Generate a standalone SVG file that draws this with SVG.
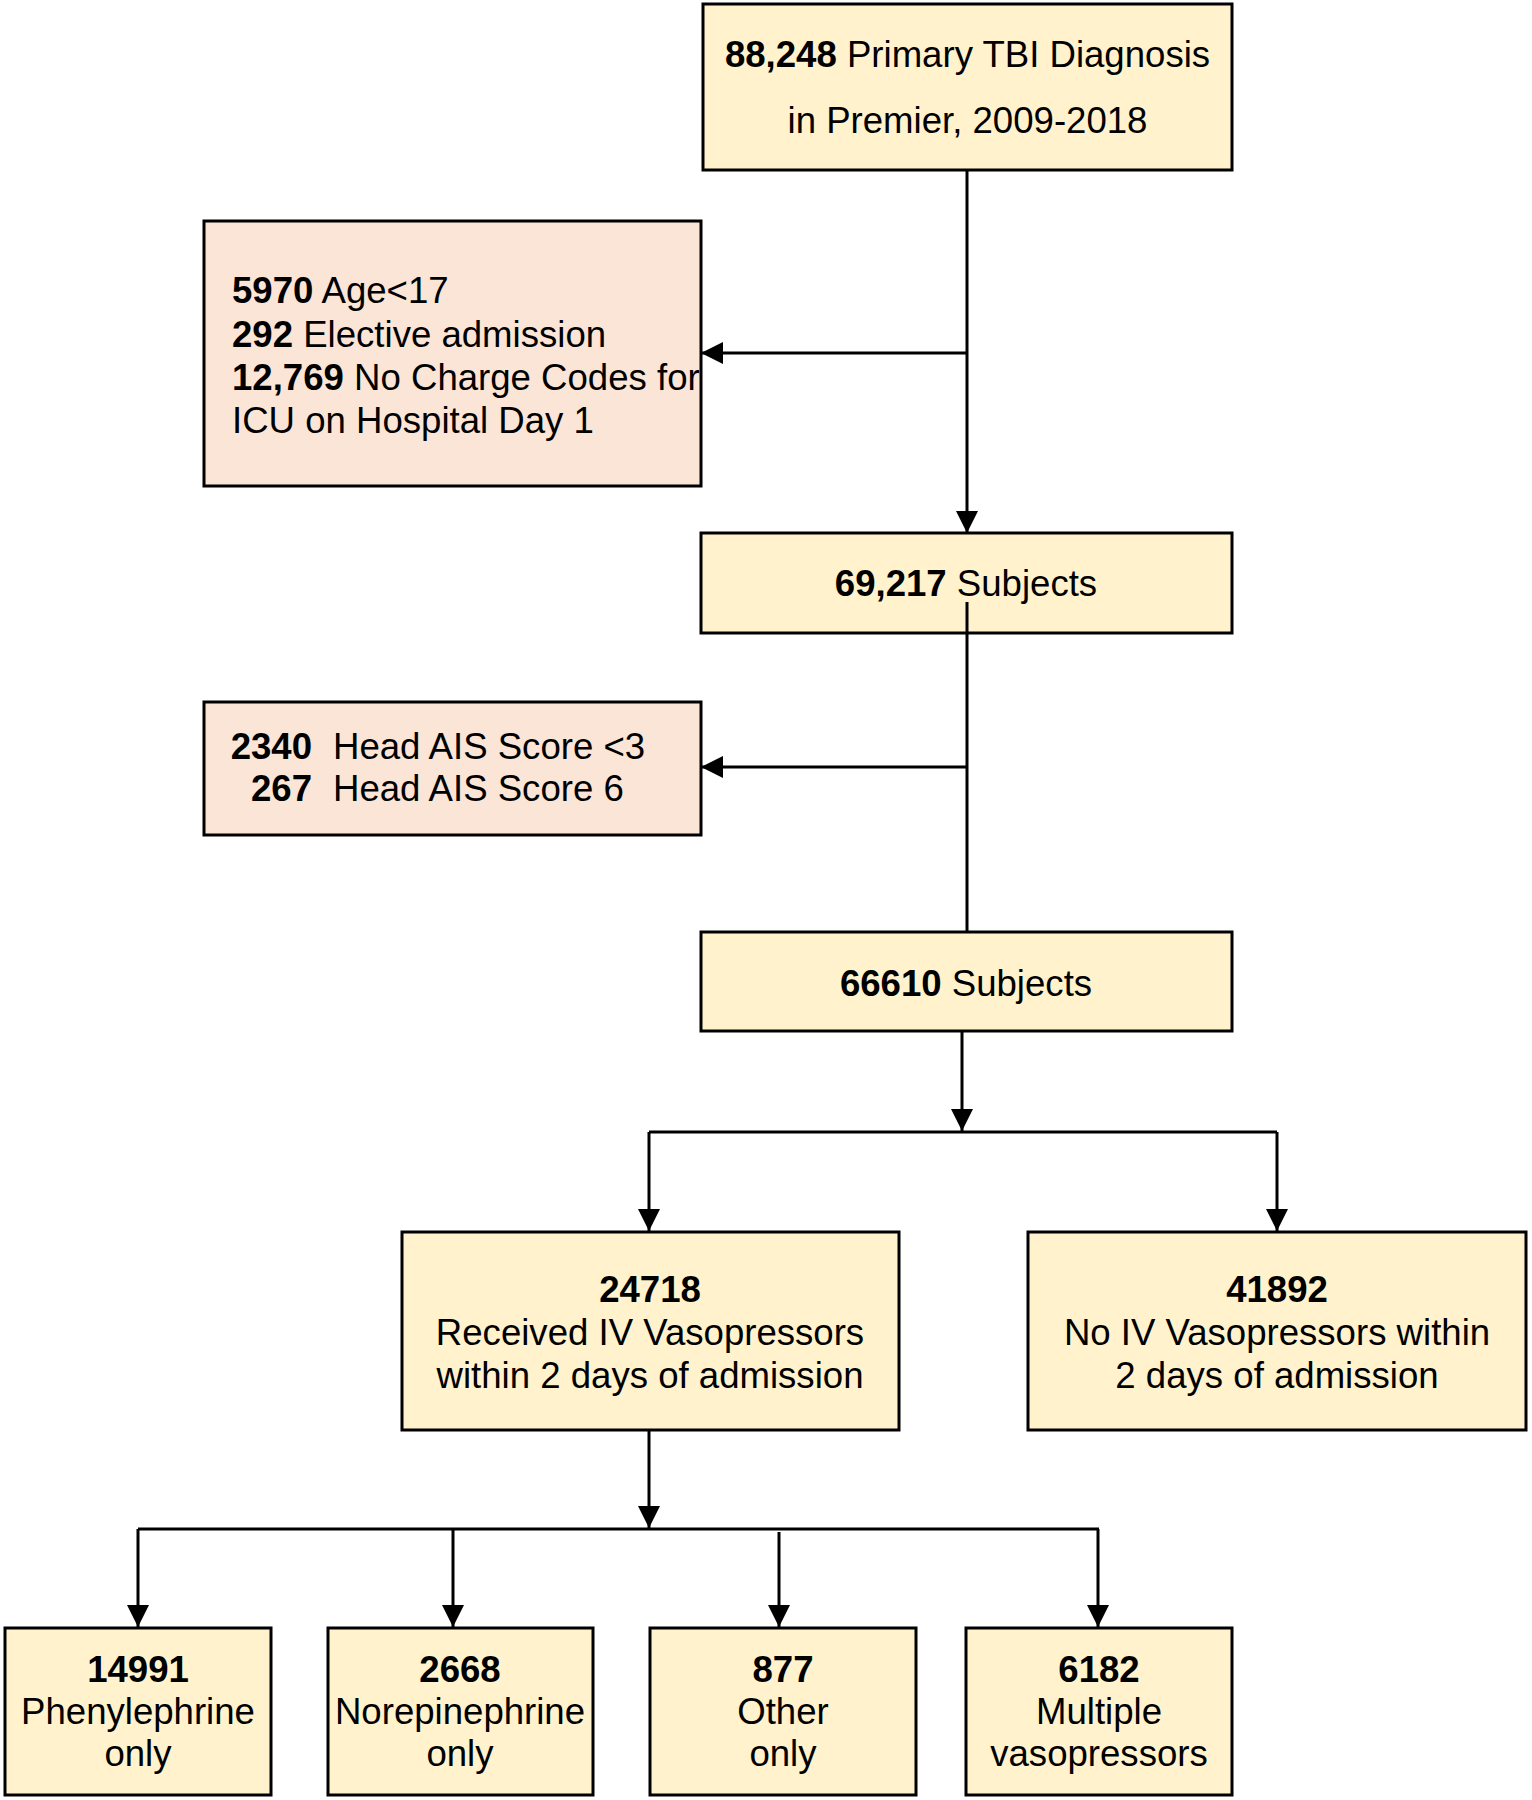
<svg xmlns="http://www.w3.org/2000/svg" width="1532" height="1800" viewBox="0 0 1532 1800">
<style>
  .box { stroke: #000; stroke-width: 3; }
  .y { fill: #FFF2CC; }
  .p { fill: #FBE5D6; }
  text { font-family: "Liberation Sans", Arial, sans-serif; font-size: 36.6px; fill: #000; }
  .c { text-anchor: middle; }
  .e { text-anchor: end; }
  .b { font-weight: bold; }
  .ln { stroke: #000; stroke-width: 3; fill: none; }
</style>
<defs>
  <marker id="arr" markerUnits="userSpaceOnUse" markerWidth="22" markerHeight="22" refX="22" refY="11" orient="auto">
    <path d="M0,0 L22,11 L0,22 Z" fill="#000"/>
  </marker>
</defs>
<rect width="1532" height="1800" fill="#fff"/>

<g id="n-start">
  <rect class="box y" x="703" y="4" width="529" height="166"/>
  <text class="c" x="967.5" y="67"><tspan class="b">88,248</tspan> Primary TBI Diagnosis</text>
  <text class="c" x="967.5" y="133">in Premier, 2009-2018</text>
</g>

<g id="n-excl1">
  <rect class="box p" x="204" y="221" width="497" height="265"/>
  <text x="232" y="303"><tspan class="b">5970</tspan> Age&lt;17</text>
  <text x="232" y="347"><tspan class="b">292</tspan> Elective admission</text>
  <text x="232" y="390"><tspan class="b">12,769</tspan> No Charge Codes for</text>
  <text x="232" y="433">ICU on Hospital Day 1</text>
</g>

<g id="n-69217">
  <rect class="box y" x="701" y="533" width="531" height="100"/>
  <text class="c" x="966" y="596"><tspan class="b">69,217</tspan> Subjects</text>
</g>

<g id="n-excl2">
  <rect class="box p" x="204" y="702" width="497" height="133"/>
  <text class="e b" x="312" y="759">2340</text>
  <text x="333" y="759">Head AIS Score &lt;3</text>
  <text class="e b" x="312" y="801">267</text>
  <text x="333" y="801">Head AIS Score 6</text>
</g>

<g id="n-66610">
  <rect class="box y" x="701" y="932" width="531" height="99"/>
  <text class="c" x="966" y="996"><tspan class="b">66610</tspan> Subjects</text>
</g>

<g id="n-received">
  <rect class="box y" x="402" y="1232" width="497" height="198"/>
  <text class="c b" x="650" y="1302">24718</text>
  <text class="c" x="650" y="1345">Received IV Vasopressors</text>
  <text class="c" x="650" y="1388">within 2 days of admission</text>
</g>

<g id="n-none">
  <rect class="box y" x="1028" y="1232" width="498" height="198"/>
  <text class="c b" x="1277" y="1302">41892</text>
  <text class="c" x="1277" y="1345">No IV Vasopressors within</text>
  <text class="c" x="1277" y="1388">2 days of admission</text>
</g>

<g id="n-phenyl">
  <rect class="box y" x="5" y="1628" width="266" height="167"/>
  <text class="c b" x="138" y="1682">14991</text>
  <text class="c" x="138" y="1724">Phenylephrine</text>
  <text class="c" x="138" y="1766">only</text>
</g>

<g id="n-norepi">
  <rect class="box y" x="328" y="1628" width="265" height="167"/>
  <text class="c b" x="460" y="1682">2668</text>
  <text class="c" x="460" y="1724">Norepinephrine</text>
  <text class="c" x="460" y="1766">only</text>
</g>

<g id="n-other">
  <rect class="box y" x="650" y="1628" width="266" height="167"/>
  <text class="c b" x="783" y="1682">877</text>
  <text class="c" x="783" y="1724">Other</text>
  <text class="c" x="783" y="1766">only</text>
</g>

<g id="n-multiple">
  <rect class="box y" x="966" y="1628" width="266" height="167"/>
  <text class="c b" x="1099" y="1682">6182</text>
  <text class="c" x="1099" y="1724">Multiple</text>
  <text class="c" x="1099" y="1766">vasopressors</text>
</g>

<g id="connectors">
  <line class="ln" x1="967" y1="170" x2="967" y2="533" marker-end="url(#arr)"/>
  <line class="ln" x1="967" y1="353" x2="701" y2="353" marker-end="url(#arr)"/>
  <line class="ln" x1="967" y1="602" x2="967" y2="932"/>
  <line class="ln" x1="967" y1="767" x2="701" y2="767" marker-end="url(#arr)"/>
  <line class="ln" x1="962" y1="1031" x2="962" y2="1131" marker-end="url(#arr)"/>
  <line class="ln" x1="649" y1="1132" x2="1277" y2="1132"/>
  <line class="ln" x1="649" y1="1132" x2="649" y2="1231" marker-end="url(#arr)"/>
  <line class="ln" x1="1277" y1="1132" x2="1277" y2="1231" marker-end="url(#arr)"/>
  <line class="ln" x1="649" y1="1430" x2="649" y2="1528" marker-end="url(#arr)"/>
  <line class="ln" x1="138" y1="1529" x2="1099" y2="1529"/>
  <line class="ln" x1="138" y1="1529" x2="138" y2="1627" marker-end="url(#arr)"/>
  <line class="ln" x1="453" y1="1529" x2="453" y2="1627" marker-end="url(#arr)"/>
  <line class="ln" x1="779" y1="1532" x2="779" y2="1627" marker-end="url(#arr)"/>
  <line class="ln" x1="1098" y1="1529" x2="1098" y2="1627" marker-end="url(#arr)"/>
</g>
</svg>
